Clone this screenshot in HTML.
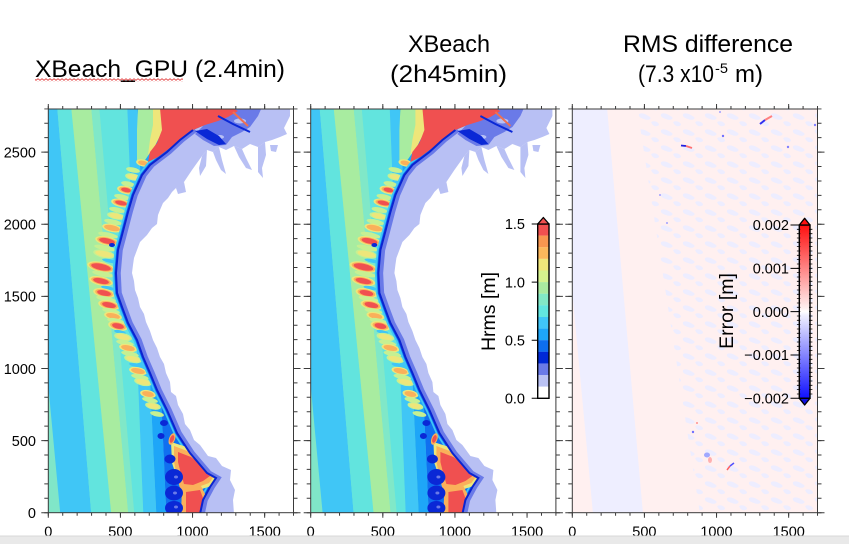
<!DOCTYPE html>
<html><head><meta charset="utf-8">
<style>
html,body{margin:0;padding:0;width:849px;height:544px;overflow:hidden;background:#fff}
svg{display:block}
text{font-family:"Liberation Sans",Arial,sans-serif;fill:#000}
.y{fill:#eee67a}.o{fill:#fab05a}.r{fill:#f05050}.g{fill:#c6f092}.lb{fill:#40c6f6}.db{fill:#0a28d6}.lv{fill:#b8c0f4}
</style></head><body>
<svg width="849" height="544" viewBox="0 0 849 544" xmlns="http://www.w3.org/2000/svg">
<defs>
 <clipPath id="c1"><rect x="48.3" y="109" width="245.2" height="403.7"/></clipPath>
 <clipPath id="c3"><rect x="572.3" y="109" width="245.2" height="403.7"/></clipPath>
 <pattern id="sq" width="4" height="3" patternUnits="userSpaceOnUse"><polyline points="0,2.4 2,0.6 4,2.4" fill="none" stroke="#e03030" stroke-width="0.8"/></pattern>
 <pattern id="mot" width="22" height="16" patternUnits="userSpaceOnUse"><path d="M1,2 C5,0 9,3 12,5 C14,7 10,9 6,7 C3,6 0,5 1,2Z M13,10 C16,8 21,10 21,13 C19,15 15,15 13,10Z" fill="#ededff"/></pattern>
 <linearGradient id="eg" x1="0" y1="0" x2="0" y2="1">
  <stop offset="0" stop-color="#ff1010"/><stop offset="0.48" stop-color="#fff0f0"/><stop offset="0.5" stop-color="#ffffff"/><stop offset="0.52" stop-color="#f0f0ff"/><stop offset="1" stop-color="#1010ff"/>
 </linearGradient>
 <path id="S" d="M193,130 L180,140 L167,152 L150,165 L142,175 L133,195 L128,212 L122,235 L118,250 L116,273 L117,293 L122,307 L128,323 L137,340 L143,357 L150,373 L157,390 L162,400 L167,410 L177,433 L190,453 L207,473 L216,478 L210,487 L203,500 L200,514"/>
 <g id="frame" fill="none" stroke="#3a3a3a">
  <rect x="0" y="0" width="245.2" height="403.7" stroke-width="1"/>
  <line x1="-0.5" y1="-1.5" x2="245.8" y2="-1.5" stroke-width="3" stroke-dasharray="1 13.424"/>
  <line x1="-0.5" y1="405.2" x2="245.8" y2="405.2" stroke-width="3" stroke-dasharray="1 13.424"/>
  <line x1="-2" y1="404.2" x2="-2" y2="-0.5" stroke-width="4" stroke-dasharray="1 13.424"/>
  <line x1="247.2" y1="404.2" x2="247.2" y2="-0.5" stroke-width="4" stroke-dasharray="1 13.424"/>
  <path stroke-width="1" d="M0,0v-5 M72.12,0v-5 M144.24,0v-5 M216.36,0v-5 M0,403.7v5 M72.12,403.7v5 M144.24,403.7v5 M216.36,403.7v5 M0,403.7h-7 M0,331.58h-7 M0,259.46h-7 M0,187.34h-7 M0,115.22h-7 M0,43.1h-7 M245.2,403.7h7 M245.2,331.58h7 M245.2,259.46h7 M245.2,187.34h7 M245.2,115.22h7 M245.2,43.1h7"/>
 </g>
</defs>

<!-- Titles -->
<text x="35" y="77" font-size="24" textLength="250" lengthAdjust="spacingAndGlyphs">XBeach_GPU (2.4min)</text>
<rect x="35" y="78.5" width="148" height="3" fill="url(#sq)"/>
<text x="408" y="52" font-size="24" textLength="82" lengthAdjust="spacingAndGlyphs">XBeach</text>
<text x="390" y="82" font-size="24" textLength="117" lengthAdjust="spacingAndGlyphs">(2h45min)</text>
<text x="623" y="52" font-size="24" textLength="170" lengthAdjust="spacingAndGlyphs">RMS difference</text>
<text x="638" y="82" font-size="24" textLength="76" lengthAdjust="spacingAndGlyphs">(7.3 x10</text>
<text x="715" y="73" font-size="14" textLength="13" lengthAdjust="spacingAndGlyphs">-5</text>
<text x="735" y="82" font-size="24">m)</text>

<!-- Hrms panel (panel 1) -->
<g id="hrms" clip-path="url(#c1)">
 <rect x="40" y="100" width="260" height="420" fill="#80e6c8"/>
 <polygon points="22.3,108 57.3,108 91.3,514 60.3,514" fill="#40c6f6"/>
 <polygon points="57.3,108 71.3,108 111.3,514 91.3,514" fill="#62e4de"/>
 <polygon points="71.3,108 91.3,108 128.3,514 111.3,514" fill="#a8eca0"/>
 <polygon points="91.3,108 99.3,108 134.3,514 128.3,514" fill="#80e8c8"/>
 <polygon points="99.3,108 127.3,108 143.3,514 134.3,514" fill="#62e4de"/>
 <polygon points="127.3,108 137.3,108 156.3,514 143.3,514" fill="#40c6f6"/>
 <polygon points="137.3,108 148.3,108 166.3,514 156.3,514" fill="#1ea6f8"/>
 <polygon points="148.3,108 300,108 300,514 166.3,514" fill="#1070f0"/>
 <!-- top surf overlays -->
 <polygon points="138,108 163,108 162,132 152,150 143,163 137,160 137,130" fill="#a8eca0"/>
 <polygon points="153,108 163,108 162,132 155,146 148,155 150,140 153,125" fill="#eee67a"/>
 <!-- surf streaks -->
 <g transform="translate(143,163) rotate(12)"><ellipse rx="7" ry="3.5" class="y"/><ellipse rx="5" ry="2.3" class="o"/></g>
 <g transform="translate(133,170) rotate(12)"><ellipse rx="7" ry="2.5" class="g"/></g>
 <g transform="translate(133,177) rotate(12)"><ellipse rx="8" ry="3.5" class="g"/><ellipse rx="6" ry="2.3" class="y"/></g>
 <g transform="translate(128,184) rotate(12)"><ellipse rx="7" ry="2.5" class="g"/></g>
 <g transform="translate(126,190) rotate(12)"><ellipse rx="9" ry="4" class="y"/><ellipse rx="7" ry="3" class="o"/><ellipse rx="5" ry="2.2" class="r"/></g>
 <g transform="translate(122,197) rotate(12)"><ellipse rx="8" ry="2.5" class="g"/></g>
 <g transform="translate(121,203) rotate(12)"><ellipse rx="10" ry="4" class="y"/><ellipse rx="8" ry="3" class="o"/><ellipse rx="6" ry="2.2" class="r"/></g>
 <g transform="translate(117,210) rotate(12)"><ellipse rx="8" ry="2.5" class="g"/></g>
 <g transform="translate(116,216) rotate(12)"><ellipse rx="9" ry="3.5" class="g"/><ellipse rx="7" ry="2.5" class="y"/></g>
 <g transform="translate(113,222) rotate(12)"><ellipse rx="9" ry="2.5" class="g"/></g>
 <g transform="translate(112,228) rotate(12)"><ellipse rx="10" ry="4" class="y"/><ellipse rx="8" ry="2.8" class="o"/></g>
 <g transform="translate(108,235) rotate(12)"><ellipse rx="10" ry="2.5" class="g"/></g>
 <g transform="translate(107,241) rotate(12)"><ellipse rx="12" ry="4.5" class="y"/><ellipse rx="10" ry="3.5" class="o"/><ellipse rx="8" ry="2.7" class="r"/></g>
 <g transform="translate(105,248) rotate(12)"><ellipse rx="11" ry="2.5" class="g"/></g>
 <g transform="translate(104,254) rotate(12)"><ellipse rx="11" ry="4" class="g"/><ellipse rx="9" ry="3" class="y"/></g>
 <ellipse cx="110" cy="261" rx="8" ry="1.8" class="lb" transform="rotate(12 110 261)"/>
 <g transform="translate(101,267) rotate(12)"><ellipse rx="14" ry="5" class="y"/><ellipse rx="12" ry="4" class="o"/><ellipse rx="10" ry="3.2" class="r"/></g>
 <g transform="translate(103,274) rotate(12)"><ellipse rx="11" ry="2.5" class="g"/></g>
 <g transform="translate(101,281) rotate(12)"><ellipse rx="12" ry="4.5" class="y"/><ellipse rx="10" ry="3.5" class="o"/><ellipse rx="8" ry="2.7" class="r"/></g>
 <ellipse cx="108" cy="288" rx="7" ry="1.8" class="lb" transform="rotate(12 108 288)"/>
 <g transform="translate(104,293) rotate(12)"><ellipse rx="11" ry="4.5" class="y"/><ellipse rx="9" ry="3.5" class="o"/><ellipse rx="7" ry="2.7" class="r"/></g>
 <g transform="translate(106,299) rotate(12)"><ellipse rx="10" ry="2.5" class="g"/></g>
 <g transform="translate(109,305) rotate(12)"><ellipse rx="11" ry="4.5" class="y"/><ellipse rx="9" ry="3.5" class="o"/><ellipse rx="7" ry="2.7" class="r"/></g>
 <g transform="translate(111,311) rotate(12)"><ellipse rx="9" ry="2.5" class="g"/></g>
 <g transform="translate(113,316) rotate(12)"><ellipse rx="9" ry="3.8" class="y"/><ellipse rx="7" ry="2.7" class="o"/></g>
 <g transform="translate(116,321) rotate(12)"><ellipse rx="9" ry="2.5" class="g"/></g>
 <g transform="translate(118,326) rotate(12)"><ellipse rx="10" ry="4.5" class="y"/><ellipse rx="8" ry="3.5" class="o"/><ellipse rx="6" ry="2.7" class="r"/></g>
 <ellipse cx="120" cy="332" rx="6" ry="1.8" class="lb" transform="rotate(12 120 332)"/>
 <g transform="translate(123,337) rotate(12)"><ellipse rx="9" ry="3.8" class="g"/><ellipse rx="7" ry="2.7" class="y"/></g>
 <g transform="translate(125,343) rotate(12)"><ellipse rx="9" ry="2.5" class="g"/></g>
 <g transform="translate(128,348) rotate(12)"><ellipse rx="9" ry="3.8" class="y"/><ellipse rx="7" ry="2.7" class="o"/></g>
 <g transform="translate(130,354) rotate(12)"><ellipse rx="9" ry="2.5" class="g"/></g>
 <g transform="translate(133,359) rotate(12)"><ellipse rx="9" ry="3.8" class="g"/><ellipse rx="7" ry="2.7" class="y"/></g>
 <ellipse cx="135" cy="365" rx="6" ry="1.8" class="lb" transform="rotate(12 135 365)"/>
 <g transform="translate(138,371) rotate(12)"><ellipse rx="9" ry="3.8" class="y"/><ellipse rx="7" ry="2.7" class="o"/></g>
 <g transform="translate(140,377) rotate(12)"><ellipse rx="9" ry="2.5" class="g"/></g>
 <g transform="translate(143,382) rotate(12)"><ellipse rx="9" ry="3.8" class="g"/><ellipse rx="7" ry="2.7" class="y"/></g>
 <ellipse cx="145" cy="388" rx="5" ry="1.8" class="lb" transform="rotate(12 145 388)"/>
 <g transform="translate(148,394) rotate(12)"><ellipse rx="8" ry="3.8" class="y"/><ellipse rx="6" ry="2.7" class="o"/></g>
 <g transform="translate(150,400) rotate(12)"><ellipse rx="8" ry="2.5" class="g"/></g>
 <g transform="translate(153,406) rotate(12)"><ellipse rx="8" ry="3.5" class="g"/><ellipse rx="6" ry="2.5" class="y"/></g>
 <g transform="translate(157,414) rotate(12)"><ellipse rx="7" ry="2.5" class="g"/></g>
 <ellipse cx="112" cy="245" rx="3" ry="2" class="db"/>
 <!-- nearshore strips -->
 <use href="#S" fill="none" stroke="#40c6f6" stroke-width="7"/>
 <use href="#S" fill="none" stroke="#1070f0" stroke-width="3.5"/>
 <!-- bottom surf features -->
 <polygon points="171,442 190,448 206,461 217,477 211,486 199,490 188,494 181,491 177,478 172,463" fill="#eee67a"/>
 <polygon points="174,446 190,452 204,463 214,476 209,483 198,487 186,491 180,488 177,476 174,462" class="o"/>
 <polygon points="178,452 191,457 203,466 210,476 203,481 193,485 184,484 181,474 178,462" class="r"/>
 <polygon points="182,488 201,486 206,496 205,514 181,514" class="o"/>
 <polygon points="186,492 200,490 203,498 202,514 186,514" class="r"/>
 <g transform="translate(172,439) rotate(20)"><ellipse rx="3" ry="6" class="o"/><ellipse rx="2" ry="4" class="r"/></g>
 <ellipse cx="174" cy="477" rx="9" ry="8" class="db"/>
 <ellipse cx="174" cy="493" rx="9" ry="7.5" class="db"/>
 <ellipse cx="174" cy="508" rx="9" ry="7" class="db"/>
 <ellipse cx="170" cy="459" rx="5.5" ry="4.5" class="db"/>
 <ellipse cx="164" cy="423" rx="4" ry="3" class="db"/>
 <ellipse cx="161" cy="436" rx="3.5" ry="3" class="db"/>
 <ellipse cx="176" cy="477" rx="2" ry="1.5" fill="#6a7ae8"/>
 <ellipse cx="175" cy="493" rx="2" ry="1.5" fill="#6a7ae8"/>
 <ellipse cx="176" cy="507" rx="2" ry="1.5" fill="#6a7ae8"/>
 <!-- land -->
 <polygon class="lv" points="193,130 180,140 167,152 150,165 142,175 133,195 128,212 122,235 118,250 116,273 117,293 122,307 128,323 137,340 143,357 150,373 157,390 162,400 167,410 177,433 190,453 207,473 216,478 210,487 203,500 200,514 295,514 295,107 232,107 218,117 205,125"/>
 <polygon fill="#ffffff" points="290,108 295,108 295,514 234,514 233,500 235,490 230,480 231,470 222,466 216,458 208,456 200,445 194,440 190,430 185,424 183,414 178,405 176,396 171,392 170,382 166,373 164,364 160,357 157,348 153,340 150,331 146,322 144,314 140,307 138,298 135,290 134,281 132,273 133,265 134,258 137,250 140,242 147,235 152,228 157,224 158,215 160,210 163,203 168,198 172,192 176,188 180,186 184,182 188,176 192,170 197,163 202,156 207,150 213,152 219,147 226,150 234,146 242,149 250,144 258,147 265,142 272,140 280,137 287,134 284,128 287,122 290,116"/>
 <!-- lavender fingers -->
 <polygon class="lv" points="213,152 219,147 222,160 226,174 221,170 216,160"/>
 <polygon class="lv" points="234,146 242,149 246,158 252,170 246,168 239,157"/>
 <polygon class="lv" points="258,147 265,142 266,155 262,168 263,178 258,172 258,160"/>
 <polygon class="lv" points="202,156 207,150 206,166 200,176 199,168"/>
 <polygon class="lv" points="176,188 184,182 186,192 178,194"/>
 <polygon class="lv" points="270,145 278,145 276,152 271,151"/>
 <use href="#S" transform="translate(2.5,0)" fill="none" stroke="#6a7ae8" stroke-width="4.5"/>
 <!-- top features -->
 <polygon points="205,124 222,114 238,107 262,107 258,116 250,127 242,132 232,137 226,145 214,146 203,140 195,134" fill="#6a7ae8"/>
 <ellipse cx="240" cy="121" rx="6" ry="2.5" class="lv"/>
 <ellipse cx="220" cy="137" rx="4" ry="2" class="lv"/>
 <polygon points="160,108 232,108 238,111 228,117 218,121 205,125 193,130 182,138 170,148 158,157 148,162 150,152 157,143 162,130" class="r"/>
 <path d="M233,112 L248,126" stroke="#f07050" stroke-width="2"/>
 <polygon points="195,131 207,129 219,136 226,144 219,145 207,139" class="db"/>
 <path d="M218,116 L233,124 L250,132" fill="none" stroke="#0a28d6" stroke-width="2"/>
 <use href="#S" fill="none" stroke="#0a24d0" stroke-width="2"/>
</g>
<!-- panel 2 (same field) -->
<use href="#hrms" transform="translate(262.4,0)"/>

<!-- panel 3 RMS difference -->
<g clip-path="url(#c3)">
 <rect x="570" y="107" width="250" height="408" fill="#fff0f0"/>
 <polygon points="555,107 607,107 643,514 593,514" fill="#eeeeff"/>
 <polygon points="637,107 820,107 820,514 700,514" fill="url(#mot)"/>
 <path d="M681,145.5 L686,146" stroke="#2020e0" stroke-width="1.8"/>
 <path d="M686,146 L692,148" stroke="#ff7070" stroke-width="1.8"/>
 <path d="M760,124 L765,120" stroke="#3030f0" stroke-width="2"/>
 <path d="M765,120 L772,116" stroke="#ff8080" stroke-width="2"/>
 <circle cx="723" cy="136" r="1.2" fill="#7070ff"/>
 <circle cx="788" cy="147" r="1.2" fill="#8080ff"/>
 <circle cx="815" cy="125" r="1.2" fill="#8080ff"/>
 <circle cx="720" cy="112" r="1" fill="#a0a0ff"/>
 <circle cx="660" cy="195" r="1" fill="#a0a0ff"/>
 <circle cx="667" cy="223" r="1" fill="#a0a0ff"/>
 <ellipse cx="707" cy="455" rx="3" ry="2.5" fill="#a0a8ff"/>
 <ellipse cx="710" cy="460" rx="2" ry="3" fill="#ffb0b0"/>
 <path d="M727,470 L730,466" stroke="#ff6060" stroke-width="1.5"/>
 <path d="M730,466 L734,463" stroke="#5050ff" stroke-width="1.5"/>
 <circle cx="693" cy="432" r="1.2" fill="#7070ff"/>
 <circle cx="697" cy="423" r="1" fill="#ff9090"/>
</g>

<!-- frames -->
<use href="#frame" transform="translate(48.3,109)"/>
<use href="#frame" transform="translate(310.7,109)"/>
<use href="#frame" transform="translate(572.3,109)"/>

<!-- y tick labels -->
<g font-size="14.5" text-anchor="end">
 <text x="36" y="518">0</text>
 <text x="36" y="445.9">500</text>
 <text x="36" y="373.8">1000</text>
 <text x="36" y="301.6">1500</text>
 <text x="36" y="229.5">2000</text>
 <text x="36" y="157.4">2500</text>
</g>
<!-- x tick labels -->
<g font-size="14.5" text-anchor="middle">
 <text x="48.3" y="536.5">0</text><text x="120.4" y="536.5">500</text><text x="192.5" y="536.5">1000</text><text x="264.7" y="536.5">1500</text>
 <text x="310.7" y="536.5">0</text><text x="382.8" y="536.5">500</text><text x="454.9" y="536.5">1000</text><text x="527.1" y="536.5">1500</text>
 <text x="572.3" y="536.5">0</text><text x="644.4" y="536.5">500</text><text x="716.5" y="536.5">1000</text><text x="788.7" y="536.5">1500</text>
</g>

<!-- Hrms colorbar -->
<g>
 <rect x="537.7" y="224" width="11.3" height="11.7" fill="#f05050"/>
 <rect x="537.7" y="235.6" width="11.3" height="11.7" fill="#f89650"/>
 <rect x="537.7" y="247.2" width="11.3" height="11.7" fill="#fcb85c"/>
 <rect x="537.7" y="258.9" width="11.3" height="11.7" fill="#f0e67a"/>
 <rect x="537.7" y="270.5" width="11.3" height="11.7" fill="#d6f28e"/>
 <rect x="537.7" y="282.1" width="11.3" height="11.7" fill="#aaeaa0"/>
 <rect x="537.7" y="293.7" width="11.3" height="11.7" fill="#82e8c6"/>
 <rect x="537.7" y="305.3" width="11.3" height="11.7" fill="#62e6e0"/>
 <rect x="537.7" y="317" width="11.3" height="11.7" fill="#40c6f8"/>
 <rect x="537.7" y="328.6" width="11.3" height="11.7" fill="#1ea6f8"/>
 <rect x="537.7" y="340.2" width="11.3" height="11.7" fill="#0e6ef0"/>
 <rect x="537.7" y="351.8" width="11.3" height="11.7" fill="#0028d6"/>
 <rect x="537.7" y="363.4" width="11.3" height="11.7" fill="#6a7ae8"/>
 <rect x="537.7" y="375" width="11.3" height="11.7" fill="#bac2f4"/>
 <rect x="537.7" y="386.7" width="11.3" height="11.6" fill="#ffffff"/>
 <rect x="537.7" y="224" width="11.3" height="174.3" fill="none" stroke="#000" stroke-width="1.4"/>
 <polygon points="537.7,224 549,224 543.35,217.5" fill="#f05050" stroke="#000" stroke-width="1.3" stroke-linejoin="round"/>
 <path d="M531.7,224h6 M531.7,282.1h6 M531.7,340.2h6 M531.7,398.3h6" stroke="#000" stroke-width="1"/>
 <g font-size="14.5" text-anchor="end">
  <text x="525" y="229.2">1.5</text><text x="525" y="287.3">1.0</text><text x="525" y="345.4">0.5</text><text x="525" y="403.5">0.0</text>
 </g>
 <text transform="translate(495,311.5) rotate(-90)" text-anchor="middle" font-size="19.5">Hrms [m]</text>
</g>

<!-- Error colorbar -->
<g>
 <rect x="799.3" y="225" width="10.7" height="173.3" fill="url(#eg)" stroke="#000" stroke-width="1.4"/>
 <polygon points="799.3,225 810,225 804.65,218.3" fill="#ff1010" stroke="#000" stroke-width="1.3" stroke-linejoin="round"/>
 <polygon points="799.3,398.3 810,398.3 804.65,405" fill="#1010e0" stroke="#000" stroke-width="1.3" stroke-linejoin="round"/>
 <line x1="798.6" y1="228.93" x2="798.6" y2="394.4" stroke="#000" stroke-width="3.4" stroke-dasharray="0.8 3.5325"/>
 <line x1="810.7" y1="228.93" x2="810.7" y2="394.4" stroke="#000" stroke-width="3.4" stroke-dasharray="0.8 3.5325"/>
 <path d="M790.5,225h8.8 M790.5,268.33h8.8 M790.5,311.65h8.8 M790.5,354.98h8.8 M790.5,398.3h8.8" stroke="#000" stroke-width="1"/>
 <g font-size="14.5" text-anchor="end">
  <text x="789" y="230.2">0.002</text><text x="789" y="273.5">0.001</text><text x="789" y="316.9">0.000</text><text x="789" y="360.2">−0.001</text><text x="789" y="403.5">−0.002</text>
 </g>
 <text transform="translate(733,311) rotate(-90)" text-anchor="middle" font-size="19.5">Error [m]</text>
</g>

<!-- bottom gray bar -->
<rect x="0" y="536" width="849" height="8" fill="#e9e9e9"/>
<line x1="0" y1="536" x2="849" y2="536" stroke="#d8d8d8" stroke-width="1"/>
</svg>
</body></html>
